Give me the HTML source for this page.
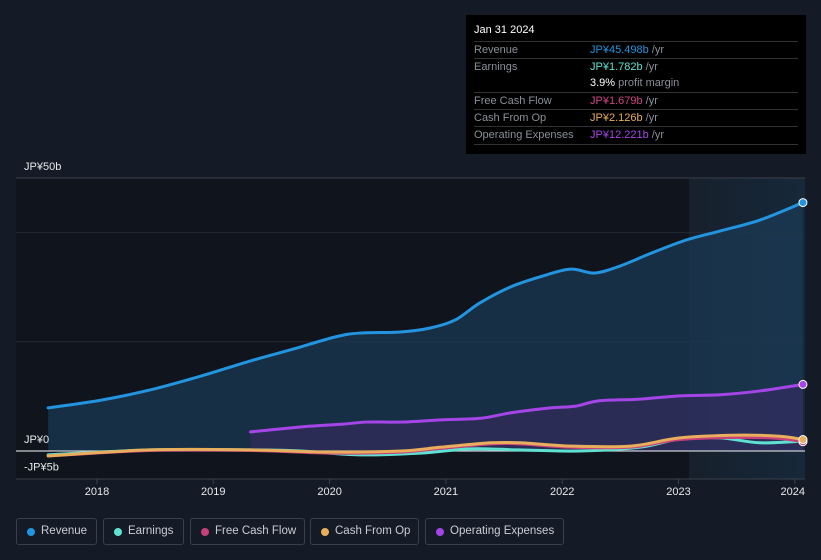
<!DOCTYPE html>
<html><head><meta charset="utf-8">
<style>
body{margin:0;background:#151b26;font-family:"Liberation Sans",sans-serif;}
#wrap{position:relative;width:821px;height:560px;overflow:hidden;background:#151b26;}
svg{position:absolute;left:0;top:0;}
#tip{position:absolute;left:466px;top:15px;width:340px;height:139px;background:#000;font-size:11px;color:#8a8f98;}
.row{position:absolute;left:8px;width:324px;height:17px;border-top:1px solid #333;line-height:17px;}
.row .v{position:absolute;left:116px;}
.leg{position:absolute;top:518px;height:27px;border:1px solid #3a404b;border-radius:3px;color:#c9ccd2;font-size:11.5px;line-height:25px;box-sizing:border-box;}
.leg i{position:absolute;left:10px;top:9px;width:8px;height:8px;border-radius:50%;}
.leg span{position:absolute;left:24px;}
</style></head><body>
<div id="wrap">
<svg id="chart" width="821" height="560"></svg>
<div id="tip">
 <div style="position:absolute;left:8px;top:9px;color:#fff;font-size:11px">Jan 31 2024</div>
 <div class="row" style="top:26px">Revenue<span class="v"><b style="color:#2394df;font-weight:normal">JP¥45.498b</b> /yr</span></div>
 <div class="row" style="top:43px">Earnings<span class="v"><b style="color:#5fe1d2;font-weight:normal">JP¥1.782b</b> /yr</span></div>
 <div class="row" style="top:60px;border-top:none"><span class="v"><b style="color:#fff;font-weight:normal">3.9%</b> profit margin</span></div>
 <div class="row" style="top:77px">Free Cash Flow<span class="v"><b style="color:#d0457f;font-weight:normal">JP¥1.679b</b> /yr</span></div>
 <div class="row" style="top:94px">Cash From Op<span class="v"><b style="color:#e8ae5b;font-weight:normal">JP¥2.126b</b> /yr</span></div>
 <div class="row" style="top:111px">Operating Expenses<span class="v"><b style="color:#a545e8;font-weight:normal">JP¥12.221b</b> /yr</span></div>
 <div style="position:absolute;left:8px;top:129px;width:324px;border-top:1px solid #333"></div>
</div>
<div class="leg" style="left:16px;width:81px"><i style="background:#2394df"></i><span>Revenue</span></div>
<div class="leg" style="left:103px;width:81px"><i style="background:#5fe1d2"></i><span>Earnings</span></div>
<div class="leg" style="left:190px;width:115px"><i style="background:#c8407a"></i><span>Free Cash Flow</span></div>
<div class="leg" style="left:310px;width:109px"><i style="background:#e8ae5b"></i><span>Cash From Op</span></div>
<div class="leg" style="left:425px;width:139px"><i style="background:#a545e8"></i><span>Operating Expenses</span></div>
</div>
<script>
const yTicks=[50,0,-5];
const yTickLabels=["JP¥50b","JP¥0","-JP¥5b"];
const xTicks=[2018,2019,2020,2021,2022,2023,2024];
const revYears=[17.58,18.03,18.46,18.89,19.32,19.66,20.05,20.26,20.61,20.86,21.08,21.29,21.55,21.81,22.07,22.28,22.5,22.75,23.06,23.36,23.7,24.07];
const revenue=[7.9,9.3,11.2,13.7,16.5,18.5,20.9,21.6,21.8,22.5,24.0,27.1,30.0,31.9,33.3,32.6,33.9,36.1,38.6,40.3,42.3,45.5];
const opexYears=[19.32,19.75,20.1,20.32,20.62,20.96,21.3,21.56,21.9,22.11,22.32,22.67,23.01,23.36,23.7,24.07];
const opex=[3.5,4.4,4.9,5.3,5.3,5.7,6.0,7.0,7.9,8.2,9.2,9.5,10.1,10.3,11.0,12.2];
const earnYears=[17.58,18.46,19.32,19.75,20.26,20.78,21.2,21.63,22.15,22.67,23.01,23.36,23.7,24.07];
const earnings=[-0.7,0.2,0.2,0.0,-0.7,-0.4,0.4,0.2,0.0,0.7,2.2,2.4,1.5,1.8];
const cfoYears=[17.58,18.46,19.32,20.01,20.61,20.96,21.39,21.64,22.07,22.59,23.01,23.53,23.87,24.07];
const cfo=[-0.9,0.2,0.2,-0.2,0.0,0.7,1.5,1.5,0.9,0.9,2.4,2.9,2.7,2.1];
const fcf=[-0.9,0.1,0.1,-0.4,-0.2,0.5,1.3,1.3,0.7,0.7,2.1,2.5,2.3,1.7];
const NS="http://www.w3.org/2000/svg";
const svg=document.getElementById('chart');
function X(yr){return 97+(yr-18)*116.3;}
function Y(v){return 451-v*5.46;}
function mk(t,a,p){const e=document.createElementNS(NS,t);for(const k in a)e.setAttribute(k,a[k]);(p||svg).appendChild(e);return e;}
function path(xs,vs){
  const P=xs.map((x,i)=>[X(x),Y(vs[i])]);
  let d='M'+P[0][0]+','+P[0][1];
  for(let i=0;i<P.length-1;i++){
    const p0=P[i>0?i-1:i],p1=P[i],p2=P[i+1],p3=P[i+2<P.length?i+2:i+1];
    const c1x=p1[0]+(p2[0]-p0[0])/6,c1y=p1[1]+(p2[1]-p0[1])/6;
    const c2x=p2[0]-(p3[0]-p1[0])/6,c2y=p2[1]-(p3[1]-p1[1])/6;
    d+=' C'+c1x+','+c1y+' '+c2x+','+c2y+' '+p2[0]+','+p2[1];
  }
  return d;
}
const defs=mk('defs',{});
const g=mk('linearGradient',{id:'hl',x1:0,x2:1,y1:0,y2:0},defs);
mk('stop',{offset:0,'stop-color':'#17202c'},g);mk('stop',{offset:1,'stop-color':'#16283a'},g);
let r=mk('rect',{x:16,y:178,width:789,height:301,fill:'#10141c'});


r=mk('rect',{x:689,y:178,width:116,height:301,fill:'url(#hl)'});


[50,40,20].forEach(v=>{const l=mk('line',{x1:16,x2:805,y1:Y(v),y2:Y(v),stroke:v==50?'#3a404b':'#232a35','stroke-width':1});

});
const rd=path(revYears,revenue);
let a=mk('path',{d:rd+' L'+X(revYears[revYears.length-1])+','+Y(0)+' L'+X(revYears[0])+','+Y(0)+'Z',fill:'#1b3a56','fill-opacity':0.7});


const od=path(opexYears,opex);
a=mk('path',{d:od+' L'+X(opexYears[opexYears.length-1])+','+Y(0)+' L'+X(opexYears[0])+','+Y(0)+'Z',fill:'#3a2a66','fill-opacity':0.55});


let z=mk('line',{x1:16,x2:805,y1:Y(0),y2:Y(0),stroke:'#c9ccd2','stroke-width':1.2});


mk('line',{x1:16,x2:805,y1:479,y2:479,stroke:'#3a404b'});
const series=[[earnYears,earnings,'#5fe1d2','earnings-line'],[cfoYears,fcf,'#c8407a','fcf-line'],[cfoYears,cfo,'#e8ae5b','cfo-line'],[opexYears,opex,'#a545e8','opex-line'],[revYears,revenue,'#2394df','revenue-line']];
series.forEach(s=>{const p=mk('path',{d:path(s[0],s[1]),fill:'none',stroke:s[2],'stroke-width':3,'stroke-linecap':'round'});


const c=mk('circle',{cx:X(s[0][s[0].length-1]),cy:Y(s[1][s[1].length-1]),r:4,fill:s[2],stroke:'#fff','stroke-width':1});

});
for(let i=0;i<yTicks.length;i++){
  const v=yTicks[i];
  const t=mk('text',{x:24,y:Y(v)-8,fill:'#e6e8eb','font-size':11,'font-family':'Liberation Sans, sans-serif'});
  t.textContent=yTickLabels[i];
  
  
}
for(let i=0;i<xTicks.length;i++){
  const yr=xTicks[i];
  const xp=X(yr-2000);
  mk('line',{x1:xp,x2:xp,y1:479,y2:484,stroke:'#3a404b'});
  const t=mk('text',{x:(i==xTicks.length-1?xp-2:xp),y:495,fill:'#e6e8eb','font-size':11,'text-anchor':'middle','font-family':'Liberation Sans, sans-serif'});
  t.textContent=String(yr);
  
  
}
</script>
</body></html>
